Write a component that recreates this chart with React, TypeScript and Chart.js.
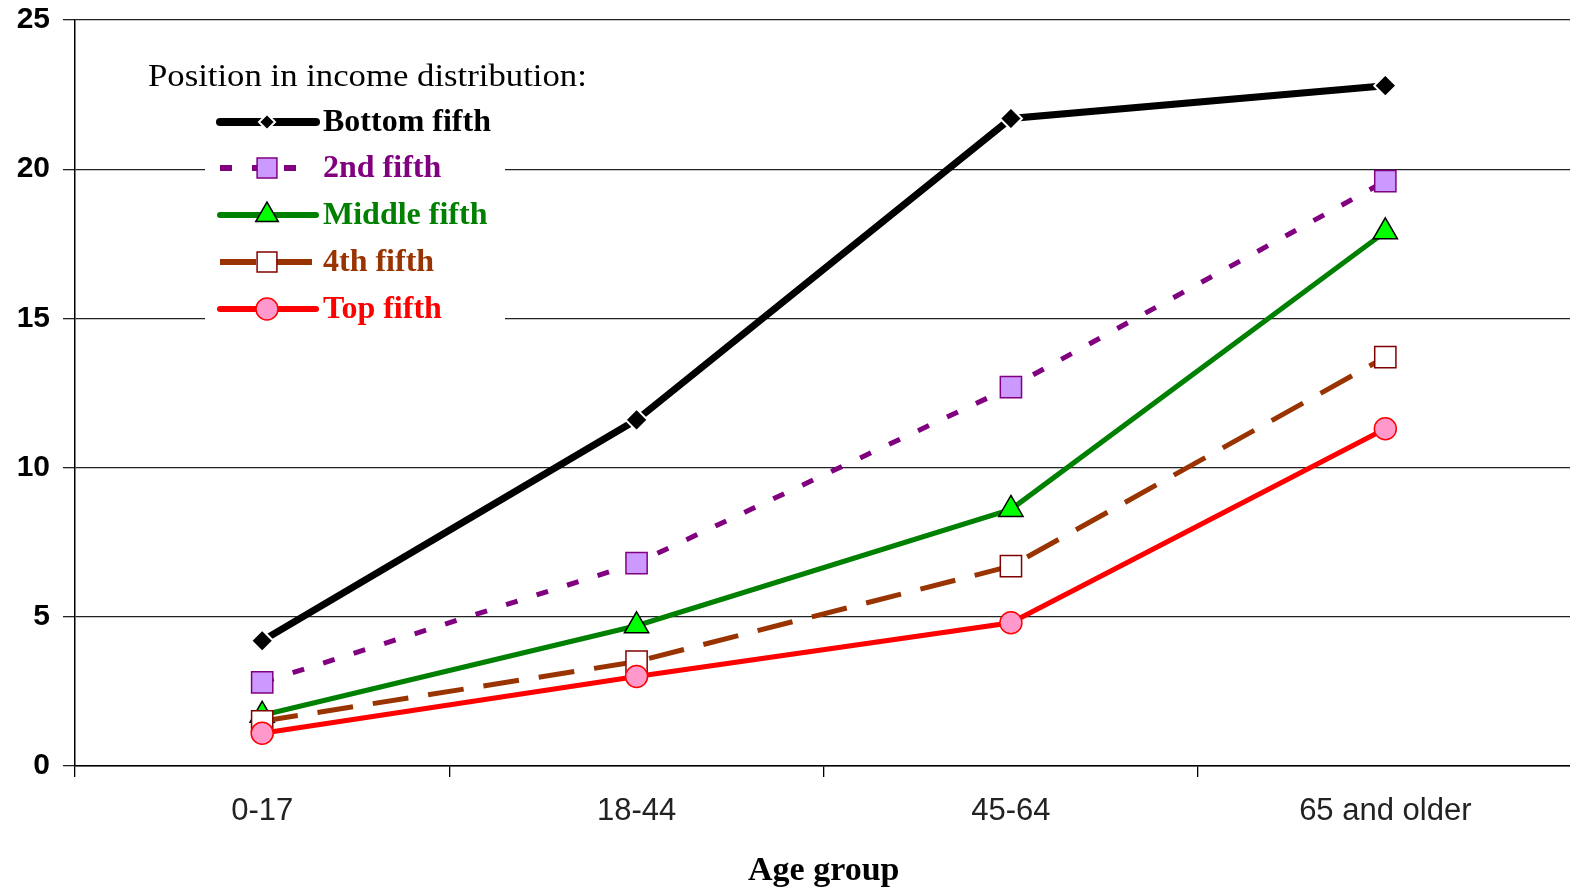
import React, { useEffect, useRef } from 'react';
import { Chart, registerables } from 'chart.js';

Chart.register(...registerables);

const categories = ['0-17', '18-44', '45-64', '65 and older'];
const bottomFifth = [4.2, 11.6, 21.7, 22.8];
const secondFifth = [2.8, 6.8, 12.7, 19.6];
const middleFifth = [1.7, 4.7, 8.6, 17.9];
const fourthFifth = [1.5, 3.5, 6.7, 13.7];
const topFifth = [1.1, 3.0, 4.8, 11.3];
const seriesLabels = ['Bottom fifth', '2nd fifth', 'Middle fifth', '4th fifth', 'Top fifth'];
const legendTitle = 'Position in income distribution:';
const xTitle = 'Age group';
const yMin = 0;
const yMax = 25;
const yStep = 5;

const SANS = "'Liberation Sans', Arial, sans-serif";
const SERIF = "'Liberation Serif', 'Times New Roman', serif";

type Style = {
  line: string;
  width: number;
  dash: number[];
  point: string;
  radius: number;
  fill: string;
  border: string;
  borderWidth: number;
  text: string;
  legendRadius: number;
};

const styles: Style[] = [
  { line: '#000000', width: 7, dash: [], point: 'rectRot', radius: 11, fill: '#000000', border: '#ffffff', borderWidth: 2, text: '#000000', legendRadius: 8 },
  { line: '#800080', width: 5, dash: [12, 20], point: 'rect', radius: 15, fill: '#CC99FF', border: '#800080', borderWidth: 1.5, text: '#800080', legendRadius: 14 },
  { line: '#008000', width: 5, dash: [], point: 'triangle', radius: 14, fill: '#00FF00', border: '#000000', borderWidth: 1.5, text: '#008000', legendRadius: 13 },
  { line: '#993300', width: 5, dash: [36, 20], point: 'rect', radius: 15, fill: '#ffffff', border: '#800000', borderWidth: 1.5, text: '#993300', legendRadius: 14 },
  { line: '#FF0000', width: 5, dash: [], point: 'circle', radius: 11, fill: '#FF99CC', border: '#FF0000', borderWidth: 1.5, text: '#FF0000', legendRadius: 11 },
];

const seriesValues = [bottomFifth, secondFifth, middleFifth, fourthFifth, topFifth];

function drawMarker(ctx: CanvasRenderingContext2D, s: Style, x: number, y: number, r: number) {
  ctx.save();
  ctx.setLineDash([]);
  ctx.fillStyle = s.fill;
  ctx.strokeStyle = s.border;
  ctx.lineWidth = s.borderWidth;
  ctx.beginPath();
  if (s.point === 'rectRot') {
    ctx.moveTo(x, y - r);
    ctx.lineTo(x + r, y);
    ctx.lineTo(x, y + r);
    ctx.lineTo(x - r, y);
    ctx.closePath();
  } else if (s.point === 'rect') {
    const h = r * Math.SQRT1_2;
    ctx.rect(x - h, y - h, 2 * h, 2 * h);
  } else if (s.point === 'triangle') {
    ctx.moveTo(x, y - r);
    ctx.lineTo(x + Math.sin((2 * Math.PI) / 3) * r, y - Math.cos((2 * Math.PI) / 3) * r);
    ctx.lineTo(x + Math.sin((4 * Math.PI) / 3) * r, y - Math.cos((4 * Math.PI) / 3) * r);
    ctx.closePath();
  } else {
    ctx.arc(x, y, r, 0, Math.PI * 2);
  }
  ctx.fill();
  ctx.stroke();
  ctx.restore();
}

const legendPlugin = {
  id: 'customLegend',
  afterDatasetsDraw(chart: any) {
    const ctx: CanvasRenderingContext2D = chart.ctx;
    ctx.save();
    ctx.fillStyle = '#ffffff';
    ctx.fillRect(205, 56, 300, 280);
    ctx.fillStyle = '#000000';
    ctx.font = `31px ${SERIF}`;
    ctx.textBaseline = 'middle';
    ctx.textAlign = 'left';
    ctx.save();
    ctx.translate(148, 78);
    ctx.scale(1.12, 1);
    ctx.fillText(legendTitle, 0, 0);
    ctx.restore();
    const rows = [122, 168, 215, 262, 309];
    seriesLabels.forEach((label, i) => {
      const s = styles[i];
      const y = rows[i];
      ctx.save();
      ctx.strokeStyle = s.line;
      ctx.lineWidth = s.width + 1;
      ctx.lineCap = s.dash.length ? 'butt' : 'round';
      ctx.setLineDash(s.dash);
      ctx.beginPath();
      ctx.moveTo(220, y);
      ctx.lineTo(316, y);
      ctx.stroke();
      ctx.restore();
      drawMarker(ctx, s, 267, y, s.legendRadius);
      ctx.fillStyle = s.text;
      ctx.font = `bold 32px ${SERIF}`;
      ctx.fillText(label, 323, y + 1);
    });
    ctx.restore();
  },
};

export default function App() {
  const ref = useRef<HTMLCanvasElement>(null);
  useEffect(() => {
    document.body.style.margin = '0';
    const canvas = ref.current!;
    const datasets = seriesLabels.map((label, i) => {
      const s = styles[i];
      return {
        label,
        data: seriesValues[i],
        borderColor: s.line,
        borderWidth: s.width,
        borderDash: s.dash,
        pointStyle: s.point,
        pointRadius: s.radius,
        pointBackgroundColor: s.fill,
        pointBorderColor: s.border,
        pointBorderWidth: s.borderWidth,
        tension: 0,
        fill: false,
        order: 5 - i,
      };
    });
    const chart = new Chart(canvas, {
      type: 'line',
      data: { labels: categories, datasets },
      plugins: [legendPlugin],
      options: {
        animation: false,
        responsive: false,
        devicePixelRatio: 1,
        layout: { padding: { top: 20, right: 0, left: 0, bottom: 0 } },
        plugins: { legend: { display: false }, tooltip: { enabled: false } },
        scales: {
          x: {
            type: 'category',
            offset: true,
            grid: { drawOnChartArea: false, drawTicks: true, tickLength: 11, color: '#000', lineWidth: 1.3, offset: true },
            border: { display: true, color: '#000', width: 1.5 },
            ticks: { font: { family: SANS, size: 31 }, color: '#222', padding: 16 },
            title: { display: true, text: xTitle, font: { family: SERIF, size: 34, weight: 'bold', lineHeight: 1.05 }, color: '#000', padding: { top: 0, bottom: 0 } },
            afterFit: (scale: any) => {
              scale.height = 123;
              scale.paddingLeft = 0;
              scale.paddingRight = 0;
            },
          },
          y: {
            min: yMin,
            max: yMax,
            ticks: { stepSize: yStep, font: { family: SANS, size: 30, weight: 'bold' }, color: '#000', padding: 13 },
            grid: { color: '#222', lineWidth: 1.3, tickLength: 12, drawTicks: true },
            border: { display: true, color: '#000', width: 1.5 },
            afterFit: (scale: any) => {
              scale.width = 75;
              scale.paddingTop = 0;
              scale.paddingBottom = 0;
            },
          },
        },
      } as any,
    });
    return () => chart.destroy();
  }, []);
  return (
    <div style={{ position: 'absolute', left: 0, top: 0, width: 1570, height: 889, background: '#fff', overflow: 'hidden' }}>
      <canvas ref={ref} width={1589} height={889} style={{ width: 1589, height: 889, display: 'block' }} />
    </div>
  );
}
